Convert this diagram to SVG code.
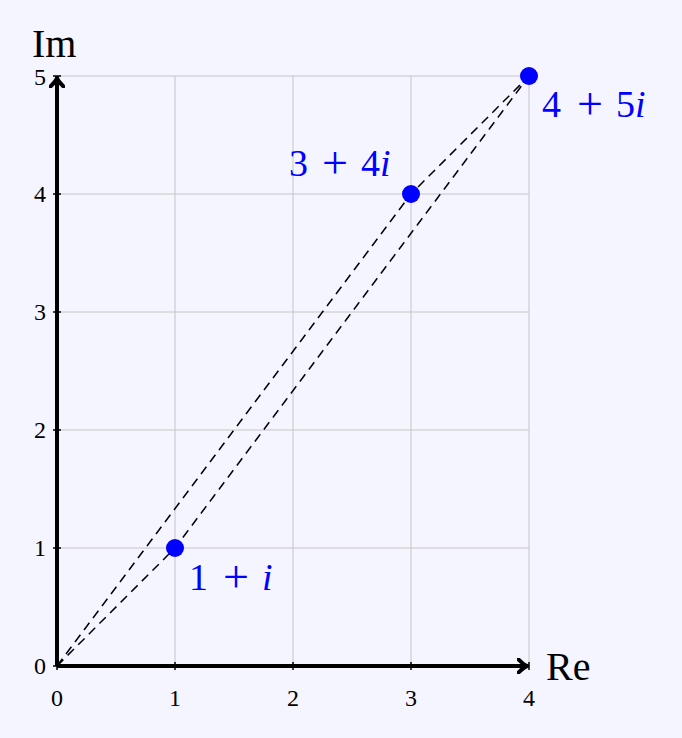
<svg xmlns="http://www.w3.org/2000/svg" width="682" height="738" viewBox="0 0 682 738">
<style>
.grid{stroke:#c4c4c4;stroke-width:1;fill:none}
.axis{stroke:#000;stroke-width:4;fill:none}
.tick{stroke:#000;stroke-width:1.5}
.dash{stroke:#000;stroke-width:1.5;stroke-dasharray:9,6;fill:none}
.tl{font-family:"Liberation Serif",serif;font-size:24px;fill:#000}
.al{font-family:"Liberation Serif",serif;font-size:40px;fill:#000}
.pl{font-family:"Liberation Serif",serif;font-size:38px;fill:#0000ff}
.pp{font-family:"Liberation Serif",serif;font-size:46px;fill:#0000ff;text-anchor:middle}
.pt{fill:#0000ff}
</style>
<defs>
<marker id="ah" viewBox="-10 -8 12 16" markerWidth="12" markerHeight="16" refX="0" refY="0" orient="auto" markerUnits="userSpaceOnUse">
<path d="M-9,-7 Q-3,-1 0,0 Q-3,1 -9,7" fill="none" stroke="#000" stroke-width="4" stroke-linecap="round"/>
</marker>
</defs>
<rect width="682" height="738" fill="#f5f5ff"/>
<g id="grid">
<path class="grid" d="M175,76V666M293,76V666M411,76V666M529,76V666M57,76H529M57,194H529M57,312H529M57,430H529M57,548H529"/>
</g>
<g id="connectors">
<path class="dash" d="M57,666L175,548L529,76"/>
<path class="dash" d="M57,666L411,194L529,76"/>
</g>
<g id="axes">
<path class="axis" d="M57,666H527" marker-end="url(#ah)"/>
<path class="axis" d="M57,666V78" marker-end="url(#ah)"/>
<path class="tick" d="M175,662V670M293,662V670M411,662V670M529,662V670M53,548H61M53,430H61M53,312H61M53,194H61M53,76H61M53,666H61M57,662V670"/>
<text class="tl" x="57" y="706" text-anchor="middle">0</text>
<text class="tl" x="175" y="706" text-anchor="middle">1</text>
<text class="tl" x="293" y="706" text-anchor="middle">2</text>
<text class="tl" x="411" y="706" text-anchor="middle">3</text>
<text class="tl" x="529" y="706" text-anchor="middle">4</text>
<text class="tl" x="46" y="674" text-anchor="end">0</text>
<text class="tl" x="46" y="556" text-anchor="end">1</text>
<text class="tl" x="46" y="438" text-anchor="end">2</text>
<text class="tl" x="46" y="320" text-anchor="end">3</text>
<text class="tl" x="46" y="202" text-anchor="end">4</text>
<text class="tl" x="46" y="85" text-anchor="end">5</text>
<text class="al" x="32" y="57">Im</text>
<text class="al" x="546" y="680">Re</text>
</g>
<g id="p1">
<circle class="pt" cx="175" cy="548" r="9"/>
<text class="pl" x="189" y="590">1</text>
<text class="pp" x="236" y="592">+</text>
<text class="pl" x="262" y="590" font-style="italic">i</text>
</g>
<g id="p2">
<circle class="pt" cx="411" cy="194" r="9"/>
<text class="pl" x="289" y="176">3</text>
<text class="pp" x="335" y="178">+</text>
<text class="pl" x="361" y="176">4<tspan font-style="italic">i</tspan></text>
</g>
<g id="p3">
<circle class="pt" cx="529" cy="76" r="9"/>
<text class="pl" x="542" y="117">4</text>
<text class="pp" x="590" y="119">+</text>
<text class="pl" x="616" y="117">5<tspan font-style="italic">i</tspan></text>
</g>
</svg>
